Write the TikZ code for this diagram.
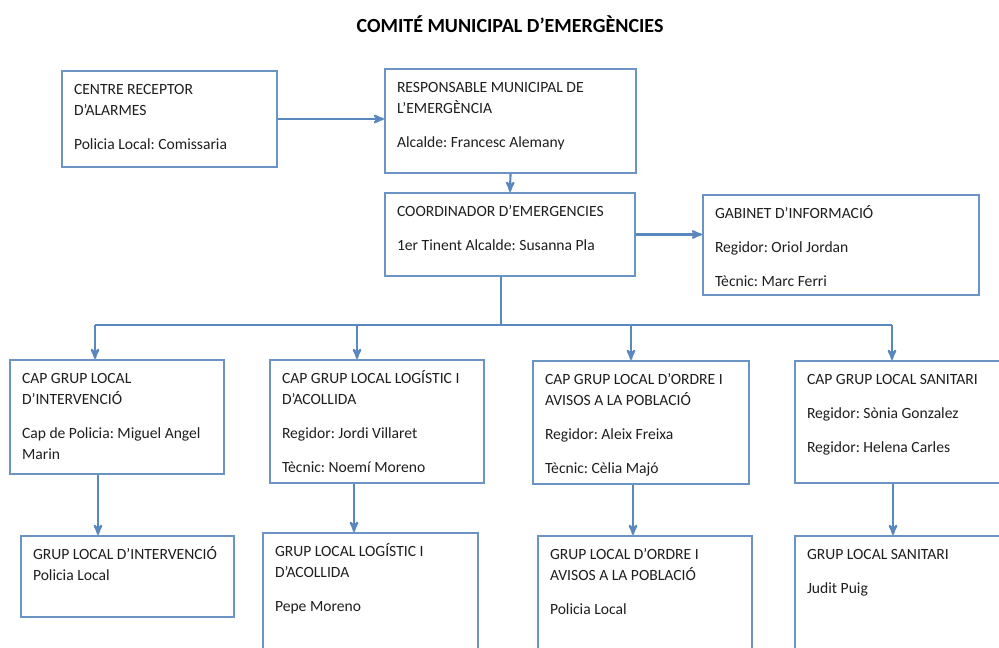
\documentclass[tikz,border=0pt]{standalone}
\usepackage{fontspec}
\setmainfont{Carlito}
\usepackage{tikz}
\usetikzlibrary{arrows}
\definecolor{box_blue}{RGB}{105,148,196}
\definecolor{line_blue}{RGB}{88,136,190}
\definecolor{text_gray}{RGB}{30,30,30}
\newlength\pxu
\setlength\pxu{0.75pt}
\newcommand\cell[3]{\parbox[t][\dimexpr#2\pxu-18\pxu\relax][t]{\dimexpr#1\pxu-24\pxu\relax}{\raggedright\frenchspacing\strut #3}}
\newcommand\gap{\\[13\pxu]}

\begin{document}
\begin{tikzpicture}[x=0.75pt,y=-0.75pt,>=stealth',semithick]
    \tikzstyle{unit}=[draw=box_blue,line width=1.5pt,anchor=north west,inner xsep=12\pxu,inner ysep=9\pxu,text=text_gray,font=\fontsize{11.7}{15.75}\selectfont]
    \tikzstyle{link}=[->,draw=line_blue,line width=1.6pt]
    \tikzstyle{title}=[font=\fontsize{15}{18}\selectfont\bfseries,text=black]

    \useasboundingbox (0,0) rectangle (999,648);
    \clip (0,0) rectangle (999,648);

    \node[title] (T) at (510,24) {COMITÉ MUNICIPAL D’EMERGÈNCIES};

    % top of the chart
    \node[unit] (alarm) at (61,70)  {\cell{215}{96}{CENTRE RECEPTOR\\D’ALARMES\gap Policia Local: Comissaria}};
    \node[unit] (resp)  at (384,68) {\cell{251}{104}{RESPONSABLE MUNICIPAL DE\\L’EMERGÈNCIA\gap Alcalde: Francesc Alemany}};
    \node[unit] (coord) at (384,192) {\cell{250}{83}{COORDINADOR D’EMERGENCIES\gap 1er Tinent Alcalde: Susanna Pla}};
    \node[unit] (gab)   at (702,194) {\cell{276}{100}{GABINET D’INFORMACIÓ\gap Regidor: Oriol Jordan\gap Tècnic: Marc Ferri}};

    % heads of the local groups
    \node[unit] (capint) at (9,359)   {\cell{214}{114}{CAP GRUP LOCAL\\D’INTERVENCIÓ\gap Cap de Policia: Miguel Angel\\Marin}};
    \node[unit] (caplog) at (269,359) {\cell{214}{123}{CAP GRUP LOCAL LOGÍSTIC I\\D’ACOLLIDA\gap Regidor: Jordi Villaret\gap Tècnic: Noemí Moreno}};
    \node[unit] (capord) at (532,360) {\cell{216}{123}{CAP GRUP LOCAL D’ORDRE I\\AVISOS A LA POBLACIÓ\gap Regidor: Aleix Freixa\gap Tècnic: Cèlia Majó}};
    \node[unit] (capsan) at (794,360) {\cell{230}{122}{CAP GRUP LOCAL SANITARI\gap Regidor: Sònia Gonzalez\gap Regidor: Helena Carles}};

    % local groups
    \node[unit] (grpint) at (20,535)  {\cell{213}{81}{GRUP LOCAL D’INTERVENCIÓ\\Policia Local}};
    \node[unit] (grplog) at (262,532) {\cell{215}{140}{GRUP LOCAL LOGÍSTIC I\\D’ACOLLIDA\gap Pepe Moreno}};
    \node[unit] (grpord) at (537,535) {\cell{214}{140}{GRUP LOCAL D’ORDRE I\\AVISOS A LA POBLACIÓ\gap Policia Local}};
    \node[unit] (grpsan) at (794,535) {\cell{230}{140}{GRUP LOCAL SANITARI\gap Judit Puig}};

    \coordinate (bus) at (501,325);
    \coordinate (b1) at (95,325);
    \coordinate (b2) at (357,325);
    \coordinate (b3) at (631,325);
    \coordinate (b4) at (892,325);
    \coordinate (d1) at (98,500);
    \coordinate (d2) at (354,500);
    \coordinate (d3) at (633,500);
    \coordinate (d4) at (893,500);

    \draw[link] (alarm.east) -- (alarm.east -| resp.west);
    \draw[link] (resp.south) -- (coord.north);
    \draw[link] (coord.east) -- (coord.east -| gab.west);
    \draw[link,-] (bus |- coord.south) -- (bus);
    \draw[link,-] (b1) -- (b4);
    \foreach \b/\n in {b1/capint,b2/caplog,b3/capord,b4/capsan}
      \draw[link] (\b) -- (\b |- \n.north);
    \foreach \d/\a/\z in {d1/capint/grpint,d2/caplog/grplog,d3/capord/grpord,d4/capsan/grpsan}
      \draw[link] (\d |- \a.south) -- (\d |- \z.north);
\end{tikzpicture}
\end{document}
